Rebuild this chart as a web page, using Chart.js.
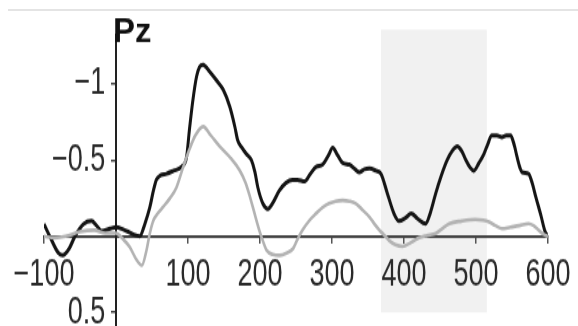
<!DOCTYPE html>
<html>
<head>
<meta charset="utf-8">
<script src="https://cdn.jsdelivr.net/npm/chart.js@4/dist/chart.umd.min.js"></script>
<style>
    html, body { margin: 0; padding: 0; background: #fff; }
    #wrap { position: relative; width: 578px; height: 326px; overflow: hidden; }
    #topRule { position: absolute; left: 8px; right: 0; top: 9px; height: 2px; background: #e4e4e4; }
    #stretch { position: absolute; left: 0; top: 0; width: 578px; height: 233px;
               transform: scaleY(1.4); transform-origin: 0 0; }
</style>
</head>
<body>
<div id="wrap">
    <div id="topRule"></div>
    <div id="stretch"><canvas id="erp" width="578" height="233"></canvas></div>
</div>
<script>
// ms after stimulus, amplitude in µV (negative up)
const blackTimes = [-100, -90, -80, -74, -65, -57, -45, -34, -27, -20, -8, 0, 10, 17, 25, 33, 40, 47, 52, 56, 62, 70, 80, 91, 98, 102, 107, 112, 116, 121, 130, 140, 149, 158, 165, 169, 175, 181, 188, 193, 197, 204, 211, 218, 227, 236, 245, 252, 262, 270, 278, 287, 295, 301, 308, 315, 324, 332, 338, 345, 352, 361, 368, 377, 386, 393, 402, 410, 419, 430, 437, 444, 452, 460, 467, 474, 480, 486, 492, 497, 504, 511, 516, 522, 529, 536, 542, 548, 553, 557, 561, 564, 573, 578, 583, 590, 596, 600];
const blackValues = [-0.08, 0.02, 0.11, 0.125, 0.08, 0.0, -0.08, -0.1, -0.07, -0.035, -0.05, -0.06, -0.045, -0.03, -0.01, 0.0, -0.08, -0.19, -0.3, -0.37, -0.4, -0.41, -0.43, -0.455, -0.52, -0.7, -0.9, -1.05, -1.11, -1.125, -1.08, -1.02, -0.96, -0.85, -0.72, -0.63, -0.58, -0.54, -0.5, -0.42, -0.32, -0.215, -0.18, -0.22, -0.3, -0.35, -0.37, -0.37, -0.36, -0.41, -0.455, -0.47, -0.53, -0.58, -0.53, -0.48, -0.47, -0.44, -0.42, -0.44, -0.445, -0.43, -0.41, -0.28, -0.15, -0.1, -0.12, -0.15, -0.115, -0.083, -0.16, -0.28, -0.4, -0.5, -0.56, -0.59, -0.56, -0.5, -0.45, -0.43, -0.48, -0.54, -0.6, -0.66, -0.66, -0.65, -0.66, -0.66, -0.6, -0.52, -0.45, -0.42, -0.41, -0.35, -0.26, -0.14, -0.03, 0.0];

const grayTimes = [-100, -85, -70, -50, -30, -15, 0, 10, 19, 28, 36, 42, 47, 52, 58, 65, 75, 84, 93, 102, 110, 121, 132, 144, 158, 172, 180, 186, 193, 199, 204, 209, 218, 227, 237, 246, 252, 259, 268, 278, 287, 296, 305, 315, 324, 333, 343, 352, 359, 366, 372, 379, 388, 398, 410, 421, 432, 444, 453, 463, 480, 499, 510, 518, 527, 536, 548, 560, 573, 580, 587, 595, 600];
const grayValues = [0.0, 0.01, 0.0, -0.03, -0.04, -0.02, -0.02, 0.02, 0.07, 0.15, 0.19, 0.1, -0.02, -0.105, -0.15, -0.19, -0.25, -0.32, -0.45, -0.57, -0.66, -0.72, -0.66, -0.59, -0.52, -0.43, -0.35, -0.26, -0.14, -0.04, 0.03, 0.09, 0.12, 0.125, 0.11, 0.08, 0.02, -0.04, -0.1, -0.15, -0.19, -0.215, -0.23, -0.235, -0.23, -0.215, -0.17, -0.127, -0.08, -0.04, -0.01, 0.026, 0.055, 0.066, 0.04, 0.01, -0.005, -0.018, -0.05, -0.083, -0.1, -0.11, -0.105, -0.094, -0.07, -0.05, -0.06, -0.07, -0.083, -0.07, -0.04, -0.01, 0.0];

const xTickValues = [-100, 100, 200, 300, 400, 500, 600];
const yTickValues = [-1, -0.5, 0.5];
const shadeWindow = [368, 515];
const shadeRange = [-1.355, 0.5];
const channelName = "Pz";

const K = 1.4; // vertical stretch of the original figure

const toPoints = (xs, ys) => xs.map((x, i) => ({ x: x, y: ys[i] }));
const minusSign = v => String(v).replace("-", "\u2212");

// axes sit inside the plot (at x=0 / y=0), so they should not eat layout space
function noLayoutSpace(scale) {
    if (scale.isHorizontal()) scale.height = 0;
    else scale.width = 0;
    scale.paddingLeft = scale.paddingRight = scale.paddingTop = scale.paddingBottom = 0;
}

const shadePlugin = {
    id: "shade",
    beforeDraw(chart) {
        const { ctx, scales } = chart;
        const x1 = scales.x.getPixelForValue(shadeWindow[0]);
        const x2 = scales.x.getPixelForValue(shadeWindow[1]);
        const y1 = scales.y.getPixelForValue(shadeRange[0]);
        const y2 = scales.y.getPixelForValue(shadeRange[1]);
        ctx.save();
        ctx.fillStyle = "#f1f1f1";
        ctx.fillRect(x1, y1, x2 - x1, y2 - y1);
        ctx.restore();
    }
};

const channelLabel = {
    id: "channelLabel",
    afterDraw(chart) {
        const { ctx, scales } = chart;
        const x0 = scales.x.getPixelForValue(0);
        ctx.save();
        ctx.scale(1, 1 / K);
        ctx.font = "bold 33px 'Liberation Sans', Arial, sans-serif";
        ctx.fillStyle = "#111";
        ctx.textBaseline = "alphabetic";
        ctx.fillText(channelName, x0 - 3, 42);
        ctx.restore();
    }
};

const tickFont = { family: "'Liberation Sans', Arial, sans-serif", size: 27 };

new Chart(document.getElementById("erp").getContext("2d"), {
    type: "line",
    data: {
        datasets: [{
            label: "gray",
            data: toPoints(grayTimes, grayValues),
            borderColor: "#b3b3b3",
            borderWidth: 2.6,
            pointRadius: 0,
            cubicInterpolationMode: "monotone",
            fill: false
        }, {
            label: "black",
            data: toPoints(blackTimes, blackValues),
            borderColor: "#151515",
            borderWidth: 3,
            pointRadius: 0,
            cubicInterpolationMode: "monotone",
            fill: false
        }]
    },
    options: {
        responsive: false,
        animation: false,
        layout: { padding: { left: 44, right: 30, top: 25, bottom: 0 } },
        plugins: {
            legend: { display: false },
            tooltip: { enabled: false }
        },
        scales: {
            x: {
                type: "linear",
                min: -100,
                max: 600,
                position: { y: 0 },
                afterFit: noLayoutSpace,
                afterBuildTicks: axis => { axis.ticks = xTickValues.map(v => ({ value: v })); },
                ticks: {
                    font: tickFont,
                    color: "#2a2a2a",
                    padding: 8,
                    maxRotation: 0,
                    autoSkip: false,
                    callback: v => minusSign(v)
                },
                grid: { drawOnChartArea: false, drawTicks: true, tickLength: 4, color: "#555", lineWidth: 1.5 },
                border: { display: true, color: "#444", width: 2 }
            },
            y: {
                type: "linear",
                min: -1.32,
                max: 0.59,
                reverse: true,
                position: { x: 0 },
                afterFit: noLayoutSpace,
                afterBuildTicks: axis => { axis.ticks = yTickValues.map(v => ({ value: v })); },
                ticks: {
                    font: tickFont,
                    color: "#2a2a2a",
                    autoSkip: false,
                    // padding is ignored for a value-positioned y axis, so pad with thin spaces
                    callback: v => minusSign(v) + "\u2009\u2009"
                },
                grid: { drawOnChartArea: false, drawTicks: true, tickLength: 4, color: "#444", lineWidth: 1.5 },
                border: { display: true, color: "#222", width: 2 }
            }
        }
    },
    plugins: [shadePlugin, channelLabel]
});
</script>
</body>
</html>
